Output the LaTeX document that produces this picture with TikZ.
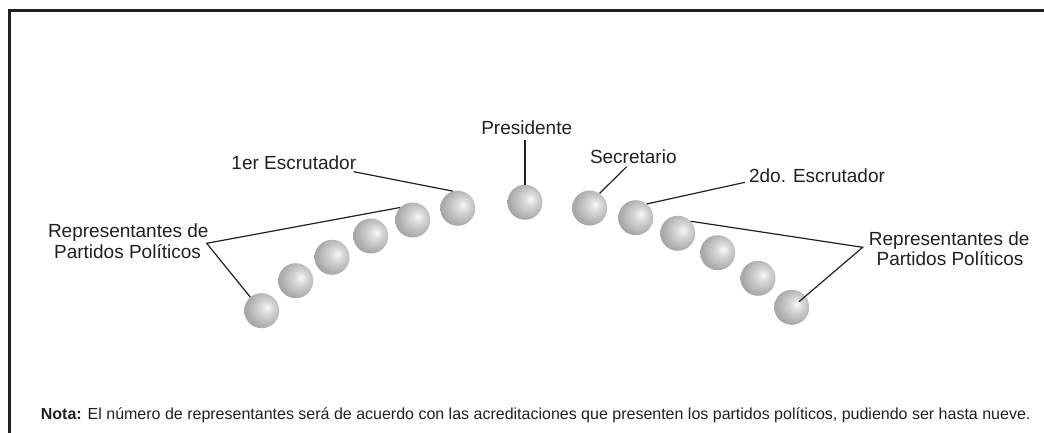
\documentclass[tikz,border=0pt]{standalone}
\usepackage{fontspec}
\setmainfont{Liberation Sans}
\definecolor{ink}{RGB}{35,31,32}
\pgfdeclareradialshading{sphshade}{\pgfpoint{8bp}{5bp}}{color(0bp)=(white!98!black); color(8bp)=(white!86!black); color(25bp)=(white!68!black); color(42bp)=(white!54!black); color(50bp)=(white!46!black); color(62bp)=(white!42!black)}
\begin{document}
\begin{tikzpicture}[x=1pt,y=-1pt,
  sph/.style={circle, minimum size=35pt, inner sep=0pt, shading=sphshade},
  lbl/.style={font=\fontsize{19}{21}\selectfont, inner sep=0pt, anchor=base, text=ink},
  conn/.style={draw=ink, line width=1.2pt},
  frame/.style={draw=ink, line width=3pt}]
\useasboundingbox (0,0) rectangle (1044,433);
\draw[frame] (9.5,433) -- (9.5,11) -- (1044,11);
% spheres
\node[sph] (L6) at (261.7,310.7) {};
\node[sph] (L5) at (295.7,280.7) {};
\node[sph] (L4) at (332,257.3) {};
\node[sph] (L3) at (370.7,236) {};
\node[sph] (L2) at (412.7,220) {};
\node[sph] (L1) at (457.7,208.3) {};
\node[sph] (P) at (525,202.3) {};
\node[sph] (R1) at (589.7,208) {};
\node[sph] (R2) at (635.7,217.7) {};
\node[sph] (R3) at (677.7,233.3) {};
\node[sph] (R4) at (717.7,252.7) {};
\node[sph] (R5) at (758,278.3) {};
\node[sph] (R6) at (791.7,307.3) {};
% labels
\node[lbl] (pres) at (526.7,135) {Presidente};
\node[lbl] (esc1) at (293.8,169.3) {1er Escrutador};
\node[lbl] (sec) at (633.3,163.3) {Secretario};
\node[lbl] (esc2) at (817,182.7) {2do. Escrutador};
\node[lbl] (repL1) at (128.3,237) {Representantes de};
\node[lbl] (repL2) at (127.5,258) {Partidos Políticos};
\node[lbl] (repR1) at (949.2,245) {Representantes de};
\node[lbl] (repR2) at (950,265) {Partidos Políticos};
\node[anchor=base west, inner sep=0pt, text=ink, font=\fontsize{16}{19}\selectfont] (nota) at (40.7,419.3) {\textbf{Nota:} El número de representantes será de acuerdo con las acreditaciones que presenten los partidos políticos, pudiendo ser hasta nueve.};
% connector ends
\coordinate (cp) at (525,140);
\coordinate (c1) at (353.7,171.7);
\coordinate (cs) at (626.7,166.7);
\coordinate (c2) at (745,182.3);
\coordinate (jl) at (206.7,243.3);
\coordinate (jr) at (862.7,247.3);
\coordinate (rr) at (799,301.7);
% connectors
\draw[conn] (cp) -- (P.north);
\draw[conn] (c1) -- (L1.105);
\draw[conn] (cs) -- (R1.56);
\draw[conn] (c2) -- (R2.51);
\draw[conn] (L2.135) -- (jl) -- (L6.130);
\draw[conn] (R3.43) -- (jr) -- (rr);
\end{tikzpicture}
\end{document}
